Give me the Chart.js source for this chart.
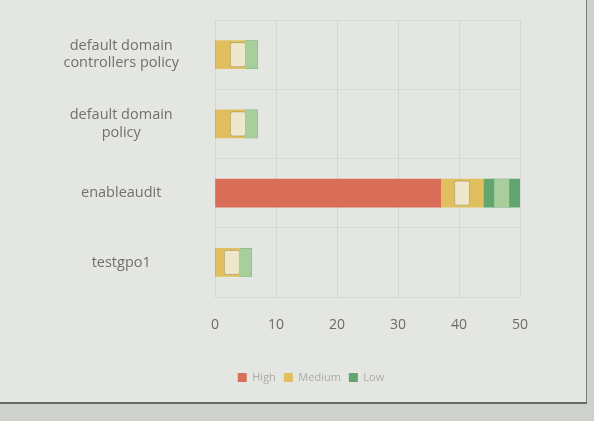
<!DOCTYPE html>
<html>
<head>
<meta charset="utf-8">
<script src="https://cdn.jsdelivr.net/npm/chart.js@4.4.1/dist/chart.umd.min.js"></script>
<style>
    html, body { margin: 0; padding: 0; }
    body { width: 594px; height: 421px; background: #cfd1cc; overflow: hidden; }
    #panel {
        position: absolute; left: 0; top: 0;
        width: 586px; height: 402px;
        background: #e4e6e2;
        border-right: 1px solid #7d8082;
        border-bottom: 2px solid #676a6d;
    }
    #chart { display: block; }
</style>
</head>
<body>
<div id="panel"><canvas id="chart" width="586" height="402"></canvas></div>
<script>
// Données
const categories = [['default domain', 'controllers policy'], ['default domain', 'policy'], 'enableaudit', 'testgpo1'];
const highCounts = [0, 0, 37, 0];
const mediumCounts = [5, 5, 7, 4];
const lowCounts = [2, 2, 6, 2];
const xMax = 50;
const xStep = 10;

// Petites étiquettes claires dans les segments Medium / Low
const segmentBoxes = {
    id: 'segmentBoxes',
    afterDatasetsDraw(chart) {
        const ctx = chart.ctx;
        [1, 2].forEach(di => {
            const meta = chart.getDatasetMeta(di);
            meta.data.forEach((bar, i) => {
                if (!chart.data.datasets[di].data[i]) return;
                const segW = Math.abs(bar.x - bar.base);
                const w = Math.min(15, segW);
                ctx.save();
                ctx.beginPath();
                if (di === 1) {
                    // segment étroit : étiquette collée à la fin
                    const cx = segW < 40 ? bar.x - w / 2 : (bar.x + bar.base) / 2;
                    const h = bar.height - 4;
                    ctx.roundRect(cx - w / 2, bar.y - h / 2, w, h, 2);
                    ctx.fillStyle = 'rgba(240,235,214,0.9)';
                    ctx.strokeStyle = 'rgba(120,105,70,0.35)';
                    ctx.fill();
                    ctx.stroke();
                } else {
                    const cx = (bar.x + bar.base) / 2;
                    const h = bar.height;
                    ctx.rect(cx - w / 2, bar.y - h / 2, w, h);
                    ctx.fillStyle = 'rgba(225,240,190,0.55)';
                    ctx.fill();
                }
                ctx.restore();
            });
        });
    }
};

// Décale la légende vers la droite, comme sur l'original
const legendShift = {
    id: 'legendShift',
    afterLayout(chart) {
        chart.legend.left += 36;
        chart.legend.right += 36;
    }
};

const ctx = document.getElementById('chart').getContext('2d');
new Chart(ctx, {
    type: 'bar',
    data: {
        labels: categories,
        datasets: [
            { label: 'High', data: highCounts, backgroundColor: '#d96f59' },
            { label: 'Medium', data: mediumCounts, backgroundColor: '#e2bf5e' },
            { label: 'Low', data: lowCounts, backgroundColor: '#62a571' }
        ]
    },
    options: {
        indexAxis: 'y',
        responsive: false,
        animation: false,
        barThickness: 28,
        layout: { padding: { left: 30, right: 66, top: 20, bottom: 9 } },
        scales: {
            x: {
                stacked: true,
                min: 0,
                max: xMax,
                ticks: { stepSize: xStep, padding: 20, color: '#6a6a6a', font: { family: 'Open Sans', size: 14 } },
                grid: { color: 'rgba(0,0,0,0.06)', drawTicks: false },
                border: { display: false },
                afterFit: scale => { scale.height = 67; }
            },
            y: {
                stacked: true,
                ticks: { crossAlign: 'center', padding: 36, color: '#707070', font: { family: 'Open Sans', size: 14.5 } },
                grid: { color: 'rgba(0,0,0,0.05)', drawTicks: false },
                border: { display: false },
                afterFit: scale => {
                    scale.width = 185;
                    scale.paddingTop = 0;
                    scale.paddingBottom = 0;
                }
            }
        },
        plugins: {
            legend: {
                position: 'bottom',
                labels: {
                    boxWidth: 9, boxHeight: 9, padding: 8,
                    color: '#a9aba8',
                    font: { family: 'Open Sans', size: 11 }
                }
            },
            tooltip: { enabled: false }
        }
    },
    plugins: [segmentBoxes, legendShift]
});
</script>
</body>
</html>
